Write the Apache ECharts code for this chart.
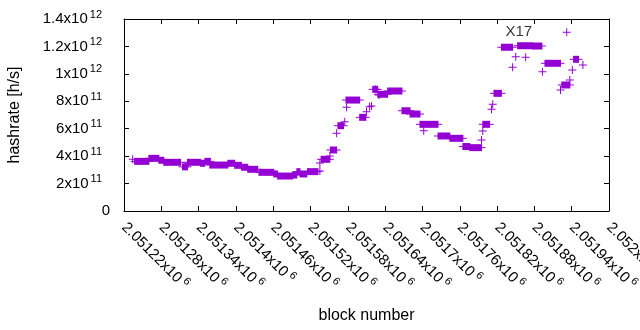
<!DOCTYPE html>
<html><head><meta charset="utf-8">
<script src="https://cdn.jsdelivr.net/npm/echarts@6/dist/echarts.min.js"></script>
<style>html,body{margin:0;padding:0;background:#fff}#c{width:640px;height:330px}</style>
</head><body><div id="c"></div>
<script>
// Plateaus (runs of consecutive blocks with the same estimated hashrate)
const runStart = [2051237,2051260,2051276,2051284,2051314,2051322,2051343,2051350,2051358,2051387,2051398,2051409,2051419,2051437,2051461,2051467,2051491,2051498,2051503,2051515,2051537,2051552,2051564,2051577,2051599,2051620,2051628,2051644,2051667,2051680,2051696,2051725,2051744,2051765,2051776,2051797,2051815,2051827,2051853,2051877,2051897,2051924,2051943];
const runEnd = [2051260,2051276,2051284,2051311,2051322,2051343,2051350,2051359,2051387,2051398,2051409,2051419,2051435,2051461,2051467,2051491,2051498,2051503,2051514,2051532,2051551,2051562,2051573,2051599,2051609,2051628,2051644,2051667,2051680,2051696,2051725,2051744,2051765,2051776,2051795,2051808,2051827,2051845,2051877,2051892,2051922,2051937,2051951];
const runValue = [3.62e11,3.84e11,3.70e11,3.55e11,3.22e11,3.55e11,3.48e11,3.62e11,3.35e11,3.48e11,3.33e11,3.19e11,3.04e11,2.82e11,2.70e11,2.55e11,2.62e11,2.87e11,2.70e11,2.87e11,3.77e11,4.45e11,6.22e11,8.09e11,6.83e11,8.87e11,8.51e11,8.75e11,7.31e11,7.07e11,6.32e11,5.47e11,5.30e11,4.70e11,4.62e11,6.32e11,8.58e11,1.194e12,1.205e12,1.203e12,1.077e12,9.19e11,1.106e12];
// Isolated blocks
const pointBlock = [2051234,2051324,2051535,2051535,2051551,2051562,2051575,2051578,2051610,2051615,2051618,2051625,2051630,2051702,2051795,2051797,2051811,2051813,2051845,2051850,2051866,2051893,2051922,2051932,2051937,2051941,2051958];
const pointValue = [3.77e11,3.48e11,2.92e11,3.50e11,4.01e11,5.67e11,6.51e11,7.56e11,7.24e11,7.61e11,7.66e11,8.87e11,8.46e11,5.86e11,5.18e11,5.83e11,7.42e11,7.78e11,1.048e12,1.125e12,1.121e12,1.016e12,8.82e11,1.303e12,9.55e11,1.028e12,1.065e12];
// Annotation
const annotBlock = [2051855];
const annotValue = [1.305e12];
const annotText = ['X17'];
// Axes
const xMin = 2051220, xMax = 2052000, xStep = 60;
const yMin = 0, yMax = 1.4e12, yStep = 2e11;
const xTitle = 'block number';
const yTitle = 'hashrate [h/s]';

const PURPLE = '#9400d3';
const FONT = 'Liberation Sans';

function yFmt(v) {
  if (v === 0) return '{m|0}';
  const e = Math.floor(Math.log10(v) + 1e-9);
  const m = parseFloat((v / Math.pow(10, e)).toFixed(4));
  return '{m|' + m + 'x10}{s|' + e + '}';
}
function xFmt(v) {
  const m = parseFloat((v / 1e6).toFixed(6));
  return '{m|' + m + 'x10}{s|6}';
}

const runData = runStart.map((s, i) => [s, runEnd[i], runValue[i]]);
const ptData = pointBlock.map((b, i) => [b, pointValue[i]]);
const annData = annotBlock.map((b, i) => ({ value: [b, annotValue[i]], name: annotText[i] }));

const chart = echarts.init(document.getElementById('c'), null, { renderer: 'canvas' });
const tickCommon = { show: true, inside: true, length: 5, lineStyle: { color: '#000', width: 1 } };
chart.setOption({
  animation: false,
  backgroundColor: '#fff',
  textStyle: { fontFamily: FONT },
  grid: { left: 124, right: 31, top: 19, bottom: 119, containLabel: false, outerBoundsMode: 'none' },
  xAxis: [{
    type: 'value', min: xMin, max: xMax, interval: xStep, position: 'bottom',
    name: xTitle, nameLocation: 'middle', nameGap: 97,
    nameTextStyle: { fontFamily: FONT, fontSize: 16, color: '#000' },
    axisLine: { show: true, onZero: false, lineStyle: { color: '#000', width: 1 } },
    axisTick: tickCommon, splitLine: { show: false },
    axisLabel: {
      rotate: -45, margin: 14, formatter: xFmt, showMaxLabel: true, showMinLabel: true, hideOverlap: false,
      rich: { m: { fontFamily: FONT, fontSize: 15, color: '#000', lineHeight: 20 },
              s: { fontFamily: FONT, fontSize: 11, color: '#000', verticalAlign: 'top', padding: [0, 0, 0, 3] } }
    }
  }, {
    type: 'value', min: xMin, max: xMax, interval: xStep, position: 'top',
    axisLine: { show: true, onZero: false, lineStyle: { color: '#000', width: 1 } },
    axisTick: tickCommon, axisLabel: { show: false }, splitLine: { show: false }
  }],
  yAxis: [{
    type: 'value', min: yMin, max: yMax, interval: yStep, position: 'left',
    name: yTitle, nameLocation: 'middle', nameGap: 101, nameRotate: 90,
    nameTextStyle: { fontFamily: FONT, fontSize: 16, color: '#000' },
    axisLine: { show: true, onZero: false, lineStyle: { color: '#000', width: 1 } },
    axisTick: tickCommon, splitLine: { show: false },
    axisLabel: {
      margin: 14, formatter: yFmt, showMaxLabel: true, showMinLabel: true,
      rich: { m: { fontFamily: FONT, fontSize: 15, color: '#000', lineHeight: 20 },
              s: { fontFamily: FONT, fontSize: 11, color: '#000', verticalAlign: 'top', padding: [0, 8, 0, 2] } }
    }
  }, {
    type: 'value', min: yMin, max: yMax, interval: yStep, position: 'right',
    axisLine: { show: true, onZero: false, lineStyle: { color: '#000', width: 1 } },
    axisTick: tickCommon, axisLabel: { show: false }, splitLine: { show: false }
  }],
  series: [{
    type: 'custom', xAxisIndex: 0, yAxisIndex: 0, data: runData, clip: true,
    encode: { x: [0, 1], y: 2 },
    renderItem: function (params, api) {
      const v = api.value(2);
      const a = api.coord([api.value(0), v]);
      const b = api.coord([api.value(1), v]);
      return {
        type: 'group', children: [
          { type: 'rect', shape: { x: a[0] - 0.5, y: a[1] - 3.5, width: b[0] - a[0] + 1, height: 7 }, style: { fill: PURPLE } },
          { type: 'rect', shape: { x: a[0] - 4, y: a[1] - 0.5, width: b[0] - a[0] + 8, height: 1 }, style: { fill: PURPLE } }
        ]
      };
    }
  }, {
    type: 'scatter', xAxisIndex: 0, yAxisIndex: 0, data: ptData,
    symbol: 'path://M0,3.5H8V4.5H0Z M3.5,0H4.5V8H3.5Z', symbolSize: 8,
    itemStyle: { color: PURPLE, opacity: 1 }, silent: true
  }, {
    type: 'scatter', xAxisIndex: 0, yAxisIndex: 0, data: annData, symbolSize: 0,
    label: { show: true, position: 'inside', formatter: '{b}', fontFamily: FONT, fontSize: 15, color: '#000' },
    silent: true
  }]
});
</script>
</body></html>
